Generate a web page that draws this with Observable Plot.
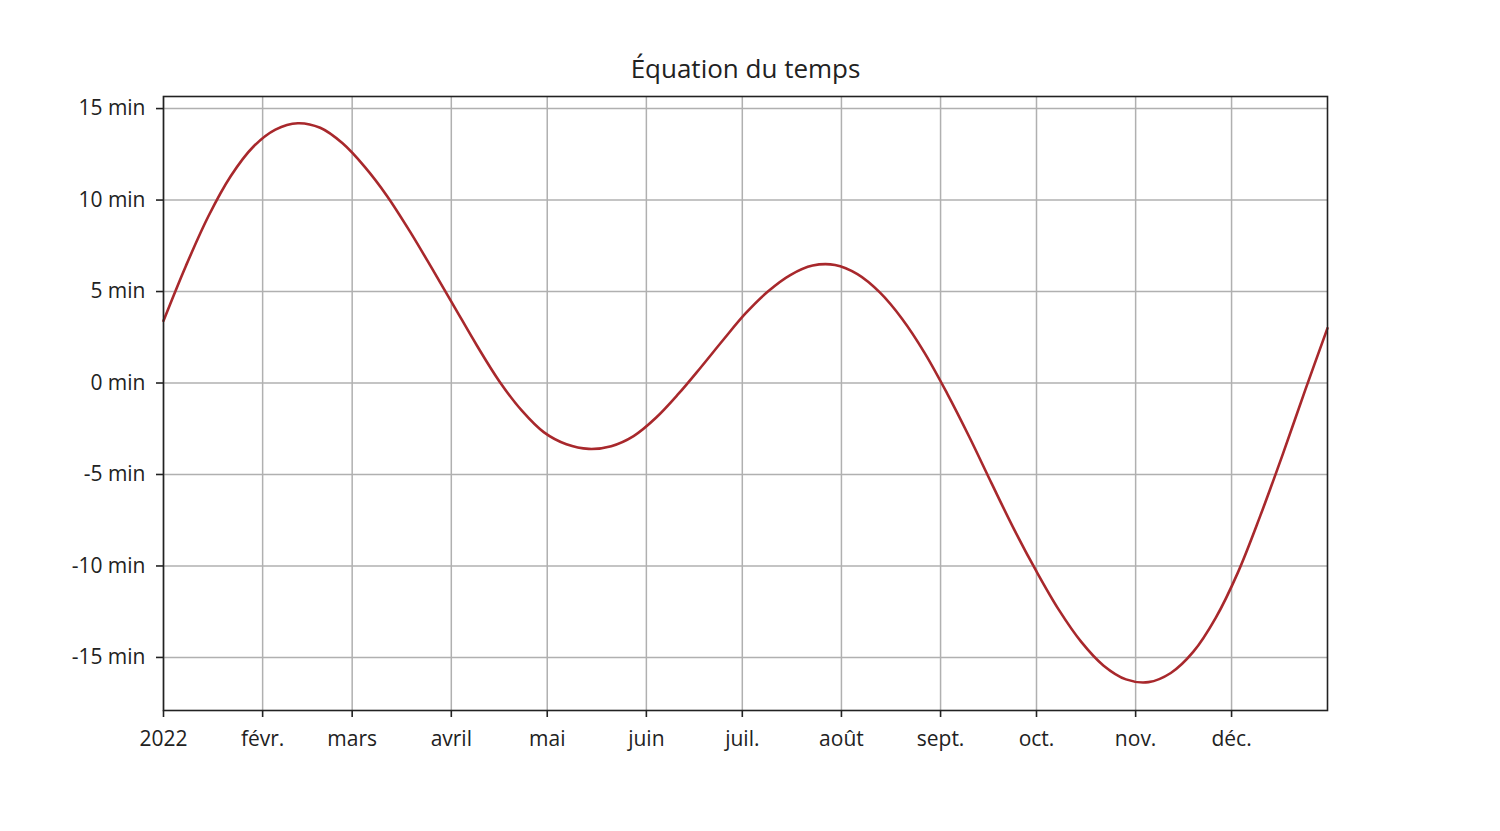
<!DOCTYPE html>
<html>
<head>
<meta charset="utf-8">
<script src="https://cdn.jsdelivr.net/npm/d3@7"></script>
<script src="https://cdn.jsdelivr.net/npm/@observablehq/plot@0.6"></script>
<style>
  html, body { margin: 0; padding: 0; background: #fff; }
  #chart svg { display: block; }
</style>
</head>
<body>
<div id="chart"></div>
<script>
const title = "Équation du temps";
const dates = ["2022-01-01","2022-01-08","2022-01-15","2022-01-22","2022-01-29","2022-02-05","2022-02-12","2022-02-19","2022-02-26",
  "2022-03-05","2022-03-12","2022-03-19","2022-03-26","2022-04-02","2022-04-09","2022-04-16","2022-04-23","2022-04-30",
  "2022-05-07","2022-05-14","2022-05-21","2022-05-28","2022-06-04","2022-06-11","2022-06-18","2022-06-25",
  "2022-07-02","2022-07-09","2022-07-16","2022-07-23","2022-07-30","2022-08-06","2022-08-13","2022-08-20","2022-08-27",
  "2022-09-03","2022-09-10","2022-09-17","2022-09-24","2022-10-01","2022-10-08","2022-10-15","2022-10-22","2022-10-29",
  "2022-11-05","2022-11-12","2022-11-19","2022-11-26","2022-12-03","2022-12-10","2022-12-17","2022-12-24","2022-12-31"];
const minutes = [3.4,6.4,9.1,11.3,12.9,13.85,14.2,13.95,13.1,
  11.8,10.2,8.3,6.25,4.15,2.05,0.1,-1.5,-2.7,
  -3.35,-3.6,-3.45,-2.9,-1.9,-0.6,0.85,2.35,
  3.8,5.0,5.9,6.42,6.45,5.95,4.95,3.5,1.65,
  -0.55,-2.95,-5.5,-8.0,-10.3,-12.4,-14.15,-15.45,-16.2,
  -16.35,-15.85,-14.7,-12.85,-10.35,-7.25,-3.9,-0.4,3.0];
const monthTicks = ["2022-01-01","2022-02-01","2022-03-01","2022-04-01","2022-05-01","2022-06-01",
  "2022-07-01","2022-08-01","2022-09-01","2022-10-01","2022-11-01","2022-12-01"];
const monthLabels = ["2022","févr.","mars","avril","mai","juin","juil.","août","sept.","oct.","nov.","déc."];
const yTicks = [-15,-10,-5,0,5,10,15];

const parse = d3.utcParse("%Y-%m-%d");
const data = dates.map((d, i) => ({date: parse(d), value: minutes[i]}));
const xTicks = monthTicks.map(parse);
const labelOf = new Map(xTicks.map((t, i) => [+t, monthLabels[i]]));

const chart = Plot.plot({
  width: 1500,
  height: 831,
  marginLeft: 163,
  marginRight: 173,
  marginTop: 96,
  marginBottom: 121,
  style: {fontFamily: "'Open Sans', 'Noto Sans', sans-serif", fontSize: "21px", color: "#222", background: "#fff"},
  x: {type: "utc", domain: [parse("2022-01-01"), parse("2022-12-31")]},
  y: {domain: [-17.9, 15.66]},
  marks: [
    Plot.gridX(xTicks, {stroke: "#b0b0b0", strokeOpacity: 1, strokeWidth: 1.5}),
    Plot.gridY(yTicks, {stroke: "#b0b0b0", strokeOpacity: 1, strokeWidth: 1.5}),
    Plot.line(data, {x: "date", y: "value", stroke: "#a8282c", strokeWidth: 2.6, curve: "catmull-rom"}),
    Plot.frame({stroke: "#222", strokeWidth: 1.6}),
    Plot.axisX(xTicks, {tickSize: 7, tickPadding: 14, tickFormat: d => labelOf.get(+d), stroke: "#222", strokeWidth: 1.6, fill: "#222", fontSize: 21, label: null}),
    Plot.axisY(yTicks, {tickSize: 7, tickPadding: 11, tickFormat: d => `${d} min`, stroke: "#222", strokeWidth: 1.6, fill: "#222", fontSize: 21, label: null}),
    Plot.text([title], {frameAnchor: "top", dy: -27, fontSize: 26, fill: "#222", lineAnchor: "middle"})
  ]
});
document.getElementById("chart").append(chart);
</script>
</body>
</html>
